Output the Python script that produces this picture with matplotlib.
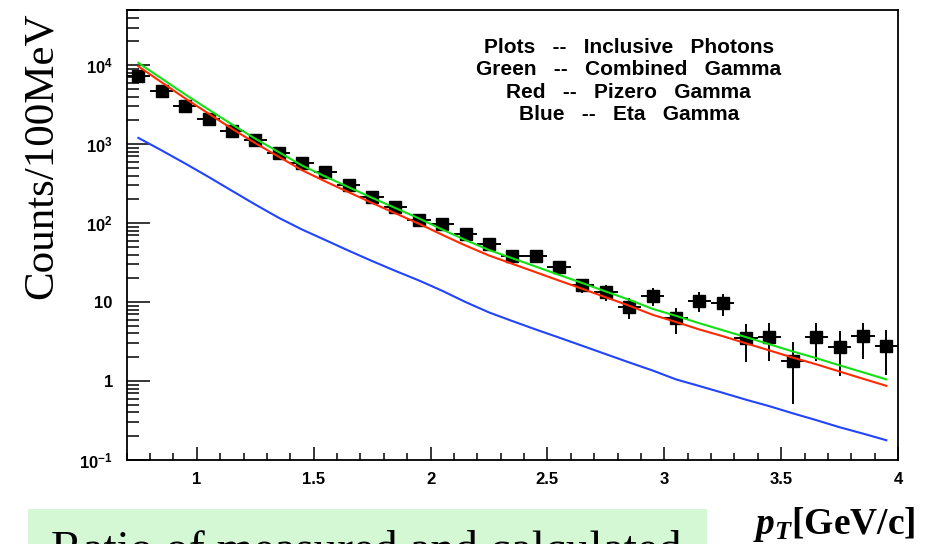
import numpy as np
import matplotlib
matplotlib.use("Agg")
import matplotlib.pyplot as plt
from matplotlib.ticker import FixedLocator, FixedFormatter, LogLocator, MultipleLocator, NullFormatter
from matplotlib.patches import Rectangle

plt.rcParams['mathtext.fontset'] = 'custom'
plt.rcParams['mathtext.bf'] = 'Liberation Sans:bold'
plt.rcParams['mathtext.it'] = 'Liberation Serif:bold:italic'
plt.rcParams['mathtext.rm'] = 'Liberation Serif:bold'

# pT bin centres [GeV/c]
pt = [0.75, 0.85, 0.95, 1.05, 1.15, 1.25, 1.35, 1.45, 1.55, 1.65, 1.75,
      1.85, 1.95, 2.05, 2.15, 2.25, 2.35, 2.45, 2.55, 2.65, 2.75, 2.85,
      2.95, 3.05, 3.15, 3.25, 3.35, 3.45, 3.55, 3.65, 3.75, 3.85, 3.95]
bin_half_width = 0.05

# measured inclusive photons
photons = [7330, 4690, 3030, 2090, 1470, 1124, 776, 579, 439, 303, 215,
           161, 111, 97, 72.6, 53.7, 38.5, 38.5, 27.5, 16.4, 13.5, 8.6,
           11.9, 6.2, 10.4, 9.6, 3.5, 3.6, 1.8, 3.6, 2.7, 3.7, 2.8]
photons_err = [90, 70, 55, 45, 38, 33, 28, 24, 21, 17, 15,
               12.5, 10.5, 9.8, 8.4, 7.2, 6.1, 6.1, 4.5, 3.4, 3.1, 2.5,
               3.1, 2.3, 3.0, 2.9, 1.76, 1.8, 1.29, 1.8, 1.55, 1.8, 1.6]

# calculated decay photons
combined_gamma = [10700, 6760, 4270, 2750, 1780, 1175, 794, 537, 389, 285, 209,
                  155, 115, 83, 61, 45.7, 35.9, 28.2, 22.1, 17.4, 13.6, 10.7,
                  8.2, 6.7, 5.4, 4.4, 3.6, 2.92, 2.37, 1.95, 1.58, 1.29, 1.05]
pizero_gamma = [9660, 6050, 3800, 2440, 1570, 1030, 695, 468, 337, 246, 180,
                133, 98.4, 71.1, 52.0, 38.9, 30.5, 23.9, 18.7, 14.7, 11.5, 9.0,
                6.9, 5.6, 4.5, 3.7, 3.0, 2.44, 1.98, 1.63, 1.32, 1.07, 0.87]
eta_gamma = [1200, 832, 569, 385, 257, 172, 117, 83, 61, 44.7, 33.1,
             24.8, 18.8, 13.9, 10.0, 7.4, 5.75, 4.5, 3.55, 2.79, 2.19, 1.72,
             1.36, 1.05, 0.865, 0.71, 0.58, 0.48, 0.39, 0.32, 0.26, 0.216, 0.178]

x_ticks = [1, 1.5, 2, 2.5, 3, 3.5, 4]
x_tick_labels = ['1', '1.5', '2', '2.5', '3', '3.5', '4']
y_ticks = [0.1, 1, 10, 100, 1000, 10000]
y_tick_labels = [r'$\mathbf{10^{-1}}$', '1', '10', r'$\mathbf{10^{2}}$',
                 r'$\mathbf{10^{3}}$', r'$\mathbf{10^{4}}$']

legend_lines = ['Plots   --   Inclusive   Photons',
                'Green   --   Combined   Gamma',
                'Red   --   Pizero   Gamma',
                'Blue   --   Eta   Gamma']

W, H = 940, 544
fig = plt.figure(figsize=(W / 100, H / 100), dpi=100)
ax = fig.add_axes([126.7 / W, 84 / H, (898 - 126.7) / W, (460 - 10) / H])

ax.errorbar(pt, photons, xerr=bin_half_width, yerr=photons_err, fmt='s',
            color='black', ms=8, elinewidth=1.4, capsize=0, zorder=2)
ax.plot(pt, combined_gamma, color='#12e012', lw=1.5, zorder=3)
ax.plot(pt, pizero_gamma, color='#ff2a00', lw=1.5, zorder=3)
ax.plot(pt, eta_gamma, color='#2244ff', lw=1.5, zorder=3)

ax.set_yscale('log')
ax.set_xlim(0.7, 4.0)
ax.set_ylim(0.1, 5e4)

ax.xaxis.set_major_locator(FixedLocator(x_ticks))
ax.xaxis.set_major_formatter(FixedFormatter(x_tick_labels))
ax.xaxis.set_minor_locator(MultipleLocator(0.1))
ax.yaxis.set_major_locator(FixedLocator(y_ticks))
ax.yaxis.set_major_formatter(FixedFormatter(y_tick_labels))
ax.yaxis.set_minor_locator(LogLocator(base=10, subs=np.arange(2, 10), numticks=20))
ax.yaxis.set_minor_formatter(NullFormatter())

ax.tick_params(axis='x', which='major', direction='in', length=9.4, width=1.1,
               pad=9, labelsize=12, top=False)
ax.tick_params(axis='x', which='minor', direction='in', length=5, width=1.1, top=False)
ax.tick_params(axis='y', which='major', direction='in', length=16.5, width=1.1,
               pad=10, labelsize=12, right=False)
ax.tick_params(axis='y', which='minor', direction='in', length=8.6, width=1.1, right=False)
for lab in ax.get_xticklabels() + ax.get_yticklabels():
    lab.set_fontfamily('Liberation Sans')
    lab.set_fontweight('bold')
for sp in ax.spines.values():
    sp.set_linewidth(1.3)

for i, line in enumerate(legend_lines):
    ax.text(0.651, 0.917 - i * 0.05, line, transform=ax.transAxes,
            ha='center', va='center', fontsize=15, fontweight='bold',
            family='Liberation Sans')

fig.text(42 / W, 1 - 156 / H, 'Counts/100MeV', rotation=90, ha='center',
         va='center', fontsize=31, family='Liberation Serif')

fig.text(753 / W, 1 - 534 / H, r'$p_T$[GeV/c]', ha='left', va='baseline',
         fontsize=27, fontweight='bold', family='Liberation Serif')

fig.patches.append(Rectangle((28 / W, 0), (707 - 28) / W, 35 / H,
                             transform=fig.transFigure, facecolor='#d3f8d3',
                             edgecolor='none', zorder=0))
fig.text(51 / W, 1 - 563 / H, 'Ratio of measured and calculated', ha='left',
         va='baseline', fontsize=34, family='Liberation Serif', zorder=1)

fig.savefig('out.png', dpi=100)
